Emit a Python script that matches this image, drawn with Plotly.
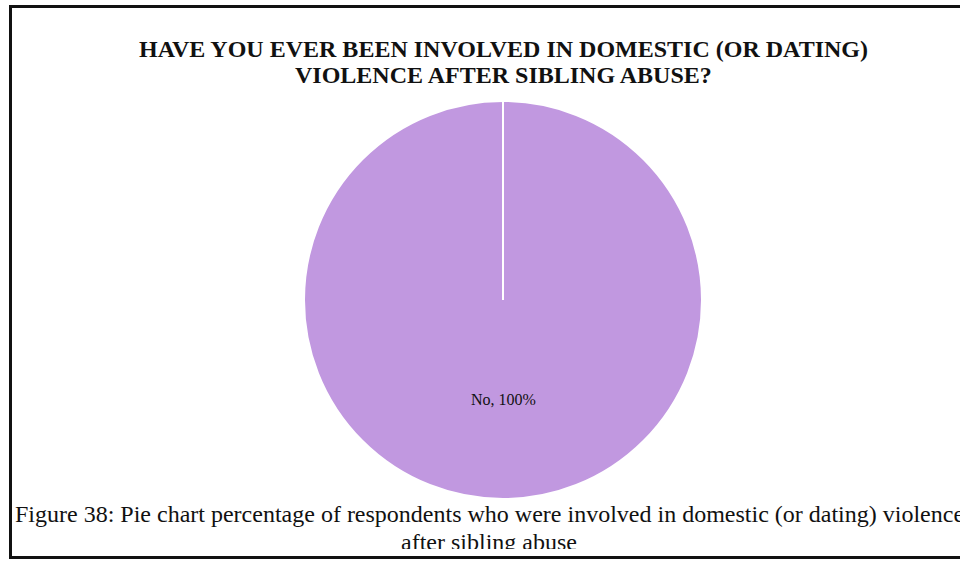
import plotly.graph_objects as go

# Survey answers and their shares (percent)
answers = ["Yes", "No"]
shares = [0, 100]

title_lines = ["HAVE YOU EVER BEEN INVOLVED IN DOMESTIC (OR DATING)",
               "VIOLENCE AFTER SIBLING ABUSE?"]
caption_lines = ["Figure 38: Pie chart percentage of respondents who were involved in domestic (or dating) violence",
                 "after sibling abuse"]

W, H = 960, 563
serif = "Liberation Serif"
ink = "#111111"

# pie placement in pixels
cx, cy, r = 503, 300, 199

fig = go.Figure()
fig.add_trace(go.Pie(
    labels=answers,
    values=shares,
    sort=False,
    direction="clockwise",
    rotation=0,
    marker=dict(colors=["#C198E0", "#C198E0"], line=dict(color="white", width=2)),
    textinfo="none",
    domain=dict(x=[(cx - r) / W, (cx + r) / W], y=[(H - cy - r) / H, (H - cy + r) / H]),
    showlegend=False,
    hoverinfo="label+percent",
))

total = sum(shares)
label_text = f"{answers[1]}, {shares[1] / total:.0%}"


def py(v):
    """pixel row -> paper y"""
    return 1 - v / H


annotations = []
# title, one line per annotation for tighter line spacing
for i, line in enumerate(title_lines):
    annotations.append(dict(
        text=line, xref="paper", yref="paper",
        x=503 / W, y=py(49 + 26 * i), xanchor="center", yanchor="middle",
        showarrow=False, font=dict(family=serif, size=24, weight="bold", color=ink)))

# slice label
annotations.append(dict(
    text=label_text, xref="paper", yref="paper",
    x=cx / W, y=py(399), xanchor="center", yanchor="middle",
    showarrow=False, font=dict(family=serif, size=16, color=ink)))

# caption: first line full, second line cut by the frame
annotations.append(dict(
    text=caption_lines[0], xref="paper", yref="paper",
    x=489 / W, y=py(499), xanchor="center", yanchor="top",
    showarrow=False, font=dict(family=serif, size=24, color=ink)))
annotations.append(dict(
    text=caption_lines[1], xref="paper", yref="paper",
    x=489 / W, y=py(527), xanchor="center", yanchor="top",
    height=20, valign="top",
    showarrow=False, font=dict(family=serif, size=24, color=ink)))

fig.update_layout(
    width=W, height=H,
    margin=dict(l=0, r=0, t=0, b=0),
    paper_bgcolor="white",
    plot_bgcolor="white",
    shapes=[
        # frame
        dict(type="rect", xref="paper", yref="paper",
             x0=10.5 / W, x1=1.05, y0=py(557.5), y1=py(6.5),
             line=dict(color=ink, width=3), fillcolor="rgba(0,0,0,0)"),
        # slice boundary at the start angle
        dict(type="line", xref="paper", yref="paper",
             x0=cx / W, x1=cx / W, y0=py(cy), y1=py(cy - r),
             line=dict(color="white", width=2)),
    ],
    annotations=annotations,
)

fig.write_html("out.html")
